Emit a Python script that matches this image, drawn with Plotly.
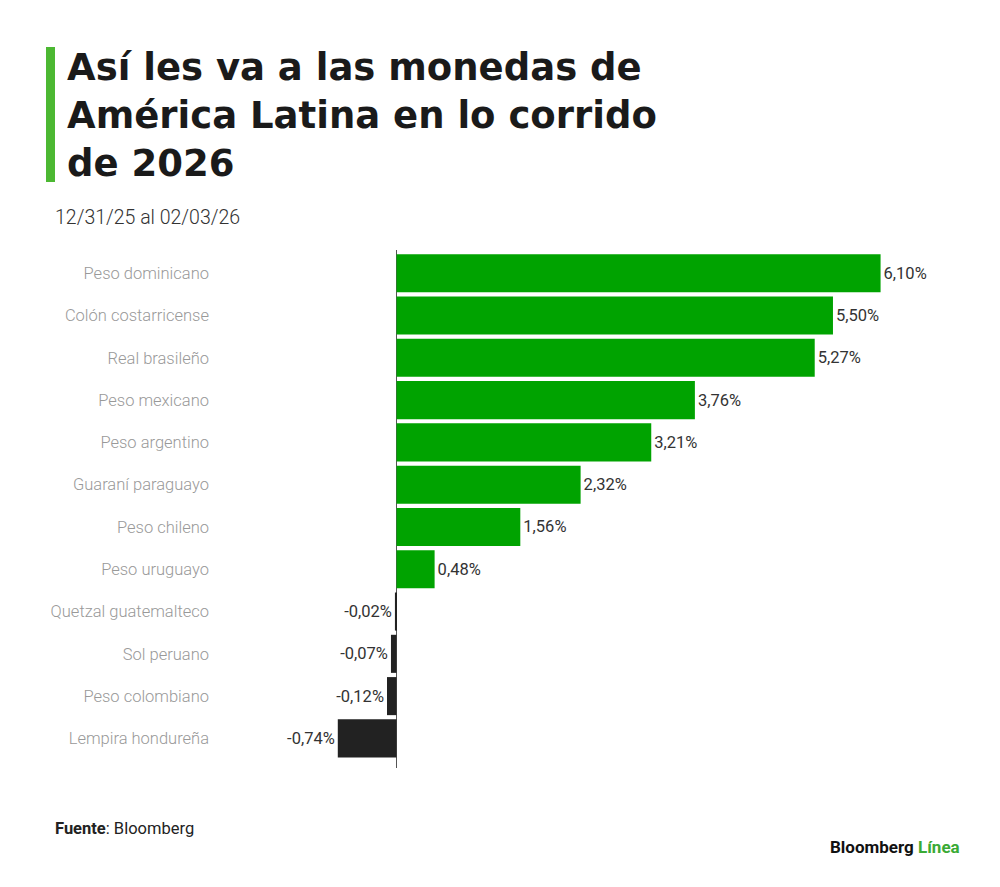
import plotly.graph_objects as go

categories = ["Peso dominicano", "Colón costarricense", "Real brasileño", "Peso mexicano",
              "Peso argentino", "Guaraní paraguayo", "Peso chileno", "Peso uruguayo",
              "Quetzal guatemalteco", "Sol peruano", "Peso colombiano", "Lempira hondureña"]
values = [6.10, 5.50, 5.27, 3.76, 3.21, 2.32, 1.56, 0.48, -0.02, -0.07, -0.12, -0.74]

GREEN = "#00a300"
DARK = "#222222"
colors = [GREEN if v >= 0 else DARK for v in values]

OFF = 8  # browser body margin
W, H = 992, 879
ML, MR, MT, MB = 206, 48, 242, 119
PW, PH = W - ML - MR, H - MT - MB

def px(x):
    return (x - OFF - ML) / PW

def py(y):
    return (H - MB - (y - OFF)) / PH

fig = go.Figure(go.Bar(
    x=values, y=categories, orientation="h",
    marker=dict(color=colors, line=dict(width=0)),
    text=values, texttemplate="%{x:.2f}%", textposition="outside",
    textfont=dict(family="Roboto", size=16.5, color="#333333"),
    cliponaxis=False, hoverinfo="skip",
))

annotations = []
annotations.append(dict(text="Así les va a las monedas de<br>América Latina en lo corrido<br>de 2026",
                        x=px(65), y=py(44), xref="paper", yref="paper", align="left",
                        xanchor="left", yanchor="top", showarrow=False,
                        font=dict(family="DejaVu Sans", size=37, color="#1a1a1a", weight=700)))
annotations.append(dict(text="12/31/25 al 02/03/26", x=px(53), y=py(218), xref="paper", yref="paper",
                        xanchor="left", yanchor="middle", showarrow=False,
                        font=dict(family="Roboto", size=19.5, color="#333333", weight=300)))
annotations.append(dict(text="<b>Fuente</b>: Bloomberg", x=px(53), y=py(828), xref="paper", yref="paper",
                        xanchor="left", yanchor="middle", showarrow=False,
                        font=dict(family="Roboto", size=16.5, color="#222222")))
annotations.append(dict(text="<b>Bloomberg</b> <b><span style='color:#3aaa35'>Línea</span></b>",
                        x=px(962), y=py(847), xref="paper", yref="paper",
                        xanchor="right", yanchor="middle", showarrow=False,
                        font=dict(family="Roboto", size=17, color="#111111")))

fig.update_layout(
    width=W, height=H,
    margin=dict(l=ML, r=MR, t=MT, b=MB),
    paper_bgcolor="white", plot_bgcolor="white",
    separators=",.",
    showlegend=False,
    bargap=0.1,
    xaxis=dict(range=[-2.3, 7.0], showgrid=False, showticklabels=False, ticks="",
               zeroline=True, zerolinecolor="#555555", zerolinewidth=1, fixedrange=True),
    yaxis=dict(type="category", categoryorder="array", categoryarray=categories,
               range=[11.7, -0.55], showgrid=False, ticks="", ticklabelstandoff=4,
               tickfont=dict(family="Roboto", size=16.5, color="#999999", weight=300)),
    annotations=annotations,
    shapes=[dict(type="rect", xref="paper", yref="paper", x0=px(46), x1=px(55),
                 y0=py(182), y1=py(47), fillcolor="#4cb832", line=dict(width=0))],
)

fig.write_html("out.html")
